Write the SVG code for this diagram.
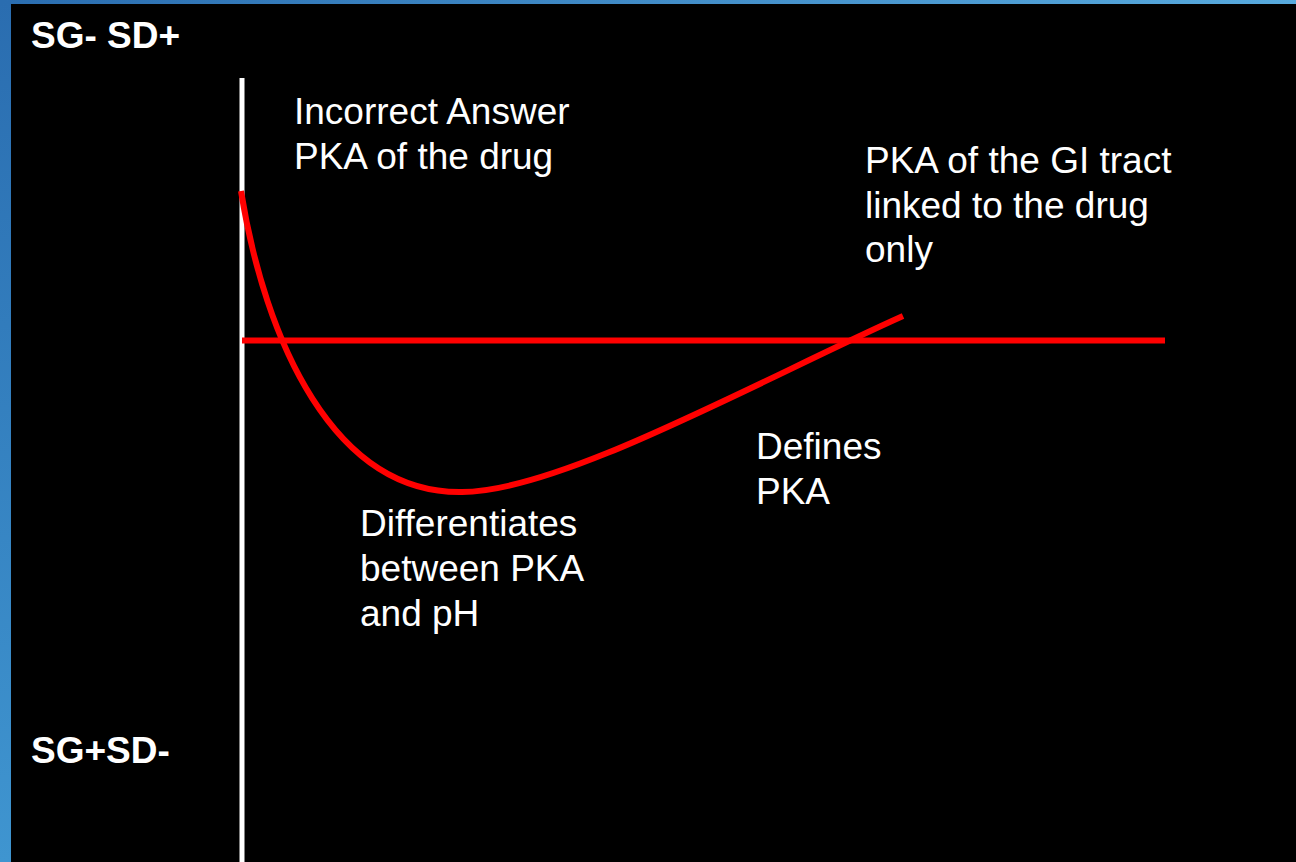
<svg xmlns="http://www.w3.org/2000/svg" width="1296" height="862" viewBox="0 0 1296 862">
  <defs>
    <linearGradient id="bg" x1="0" y1="0" x2="1" y2="0.3">
      <stop offset="0" stop-color="#2a6db0"/>
      <stop offset="1" stop-color="#5cb0e2"/>
    </linearGradient>
    <linearGradient id="side" x1="0" y1="0" x2="0" y2="1">
      <stop offset="0" stop-color="#2a6db0"/>
      <stop offset="1" stop-color="#3f95d0"/>
    </linearGradient>
    <style>
      .lbl { font-family: "Liberation Sans", Arial, sans-serif; font-size: 37px; fill: #ffffff; }
      .axis { font-family: "Liberation Sans", Arial, sans-serif; font-size: 37px; font-weight: bold; fill: #ffffff; }
      .red { stroke: #ff0000; stroke-width: 6; fill: none; }
    </style>
  </defs>
  <rect x="0" y="0" width="1296" height="862" fill="url(#bg)"/>
  <rect x="0" y="0" width="11" height="862" fill="url(#side)"/>
  <rect x="11" y="4" width="1285" height="858" fill="#000000"/>

  <g id="axis-labels">
    <text class="axis" x="31" y="48">SG- SD+</text>
    <text class="axis" x="31" y="763">SG+SD-</text>
  </g>

  <g id="connectors">
    <line x1="242" y1="78" x2="242" y2="862" stroke="#ffffff" stroke-width="5"/>
    <line class="red" x1="242" y1="340.5" x2="1165" y2="340.5"/>
    <path class="red" d="M241,191 C265,340 333,494 462,492 C560,492 760,380 903,316"/>
  </g>

  <g id="incorrect">
    <text class="lbl" x="294" y="124">Incorrect Answer</text>
    <text class="lbl" x="294" y="169">PKA of the drug</text>
  </g>
  <g id="gi-tract">
    <text class="lbl" x="865" y="173">PKA of the GI tract</text>
    <text class="lbl" x="865" y="218">linked to the drug</text>
    <text class="lbl" x="865" y="262">only</text>
  </g>
  <g id="differentiates">
    <text class="lbl" x="360" y="536">Differentiates</text>
    <text class="lbl" x="360" y="581">between PKA</text>
    <text class="lbl" x="360" y="626">and pH</text>
  </g>
  <g id="defines">
    <text class="lbl" x="756" y="459">Defines</text>
    <text class="lbl" x="756" y="504">PKA</text>
  </g>
</svg>
